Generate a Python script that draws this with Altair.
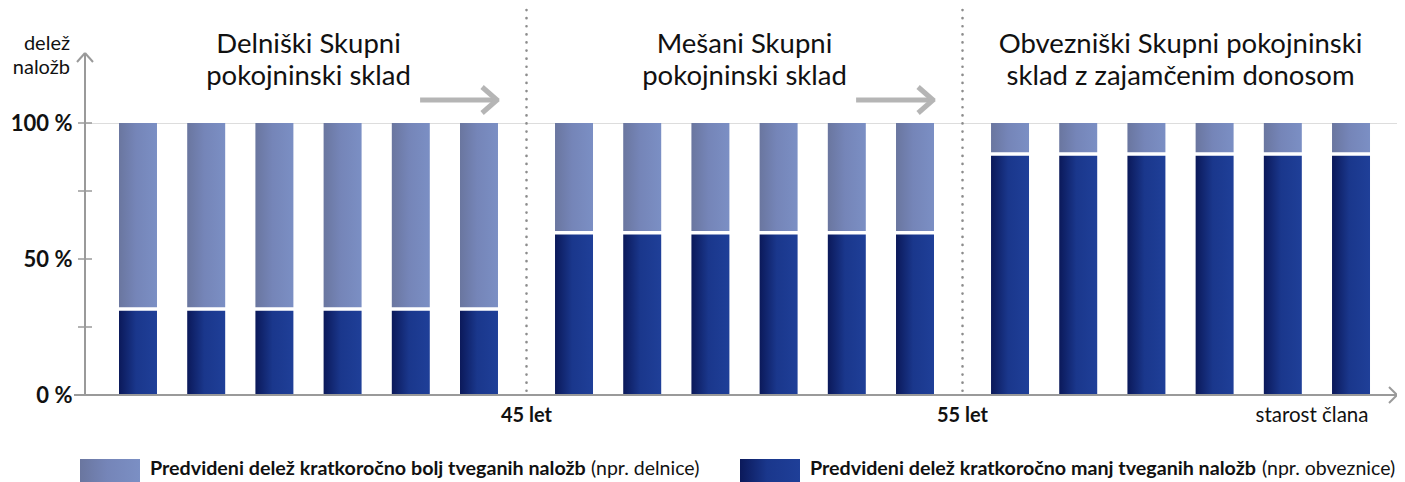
import altair as alt
import pandas as pd

# ---------------- data ----------------
groups = ["Delniški", "Mešani", "Obvezniški"]
group_titles = ["Delniški Skupni\npokojninski sklad",
                "Mešani Skupni\npokojninski sklad",
                "Obvezniški Skupni pokojninski\nsklad z zajamčenim donosom"]
low_risk_share = [31, 59, 88]      # % manj tveganih naložb (dark)
bars_per_group = 6
boundary_groups = ["Mešani", "Obvezniški"]
boundary_labels = ["45 let", "55 let"]
y_ticks = [25, 50, 75, 100]
y_labels = [0, 50, 100]
legend_bold = ["Predvideni delež kratkoročno bolj tveganih naložb",
               "Predvideni delež kratkoročno manj tveganih naložb"]
legend_normal = ["(npr. delnice)", "(npr. obveznice)"]

rows = []
for g, s in zip(groups, low_risk_share):
    for i in range(bars_per_group):
        rows.append({"group": g, "bar": i, "low": s, "high": 100})
bars = pd.DataFrame(rows)
titles_df = pd.DataFrame({"group": groups, "title": group_titles})
bound_df = pd.DataFrame({"group": boundary_groups, "label": boundary_labels})
ticks_df = pd.DataFrame({"v": y_ticks})
one = pd.DataFrame({"a": [0]})

# ---------------- layout ----------------
LEFT, TOP = 77, 115          # plot origin on page = (85, 123)
W, H = 1312, 272
FONT = "Lato"
GRAY = "#9a9a9a"
ARROW_GRAY = "#b5b5b5"
P_IN, P_OUT, ALIGN = 0.0615, 0.0353, 0.614
step = W / (3 - P_IN + 2 * P_OUT)
gap = step * P_IN
band = step * (1 - P_IN)
first_start = (W - step * (3 - P_IN)) * ALIGN


def px(page_x):
    return page_x - LEFT - 8


def py(page_y):
    return page_y - TOP - 8


xscale = alt.Scale(domain=groups, paddingInner=P_IN, paddingOuter=P_OUT, align=ALIGN)

light = alt.LinearGradient(gradient="linear", x1=0, x2=1, y1=0, y2=0, stops=[
    alt.GradientStop(color="#6a769f", offset=0),
    alt.GradientStop(color="#7585b8", offset=0.45),
    alt.GradientStop(color="#7b8fc4", offset=1)])
dark = alt.LinearGradient(gradient="linear", x1=0, x2=1, y1=0, y2=0, stops=[
    alt.GradientStop(color="#0b195a", offset=0),
    alt.GradientStop(color="#1a378c", offset=0.45),
    alt.GradientStop(color="#1f3f98", offset=1)])

yscale = alt.Scale(domain=[0, 100], nice=False)
xenc = alt.X("group:N", scale=xscale, axis=None)
xoff = alt.XOffset("bar:O", scale=alt.Scale(paddingInner=0.443, paddingOuter=0.2215))

dark_bars = alt.Chart(bars).mark_bar(color=dark).encode(
    x=xenc, xOffset=xoff,
    y=alt.Y("low:Q", scale=yscale,
            axis=alt.Axis(values=y_labels, labelExpr="datum.value + ' %'", title=None,
                          domain=False, ticks=False, grid=False, labelFont=FONT,
                          labelFontSize=22, labelFontWeight="bold", labelColor="#111",
                          labelPadding=13)),
    y2=alt.datum(0))
light_bars = alt.Chart(bars).mark_bar(color=light, y2Offset=-3.5).encode(
    x=xenc, xOffset=xoff, y=alt.Y("high:Q", scale=yscale), y2="low:Q")

titles = alt.Chart(titles_df).mark_text(
    font=FONT, fontSize=27.5, lineBreak="\n", lineHeight=32, baseline="middle",
    color="#111").encode(x=alt.X("group:N", scale=xscale, axis=None),
                         y=alt.value(-78), text="title:N")

dividers = alt.Chart(bound_df).mark_rule(
    xOffset=-gap / 2, strokeDash=[0.1, 8], strokeCap="round", strokeWidth=2.6,
    color="#8c8c8c").encode(x=alt.X("group:N", scale=xscale, axis=None, bandPosition=0),
                            y=alt.value(-113), y2=alt.value(H - 4))
bound_text = alt.Chart(bound_df).mark_text(
    xOffset=-gap / 2, font=FONT, fontSize=20, fontWeight="bold", color="#111",
    baseline="middle").encode(x=alt.X("group:N", scale=xscale, axis=None, bandPosition=0),
                              y=alt.value(H + 21), text="label:N")

tick_rules = alt.Chart(ticks_df).mark_rule(color=GRAY, strokeWidth=1.5).encode(
    y=alt.Y("v:Q", scale=yscale), x=alt.value(-7), x2=alt.value(7))


def seg(x1, y1, x2, y2, color=GRAY, width=2.0):
    return alt.Chart(one).mark_rule(color=color, strokeWidth=width, strokeCap="butt").encode(
        x=alt.value(x1), x2=alt.value(x2), y=alt.value(y1), y2=alt.value(y2))


def text(x, y, s, size=17, weight="normal", align="left", line_height=24):
    return alt.Chart(one).mark_text(
        font=FONT, fontSize=size, fontWeight=weight, align=align, baseline="middle",
        lineBreak="\n", lineHeight=line_height, color="#111").encode(
        x=alt.value(x), y=alt.value(y), text=alt.value(s))


decor = [
    # y axis with arrow
    seg(0, H, 0, -70), seg(-8, -61, 0, -70), seg(8, -61, 0, -70),
    # x axis with arrow
    seg(-11, H, W, H), seg(W - 8, H - 8, W, H), seg(W - 8, H + 8, W, H),
]
# grey arrows between the phases
for k in range(2):
    tip = first_start + band + k * step - 16
    decor += [seg(tip - 77, -23, tip - 2, -23, ARROW_GRAY, 5),
              seg(tip - 15, -36, tip + 1, -22, ARROW_GRAY, 5),
              seg(tip - 15, -10, tip + 1, -24, ARROW_GRAY, 5)]

texts = [
    text(-15, -79, "delež\nnaložb", 20, align="right", line_height=24),
    text(px(1312), H + 21, "starost člana", 20.5, align="center"),
    text(px(150), py(469), legend_bold[0], 19.7, "bold"),
    text(px(591), py(469), legend_normal[0], 19.5),
    text(px(810), py(469), legend_bold[1], 19.7, "bold"),
    text(px(1262), py(469), legend_normal[1], 19.5),
]
legend_swatches = [
    alt.Chart(one).mark_rect(color=light).encode(
        x=alt.value(px(80)), x2=alt.value(px(140)), y=alt.value(py(459)), y2=alt.value(py(483))),
    alt.Chart(one).mark_rect(color=dark).encode(
        x=alt.value(px(740)), x2=alt.value(px(800)), y=alt.value(py(459)), y2=alt.value(py(483))),
]

chart = alt.layer(
    light_bars, dark_bars, dividers, tick_rules, *decor, titles, bound_text,
    *texts, *legend_swatches
).properties(
    width=W, height=H, autosize="none",
    padding={"left": LEFT, "top": TOP, "right": 0, "bottom": 88},
).configure_view(stroke=None).configure(background="white")

chart.save("out.html", embed_options={"renderer": "svg", "actions": False})
